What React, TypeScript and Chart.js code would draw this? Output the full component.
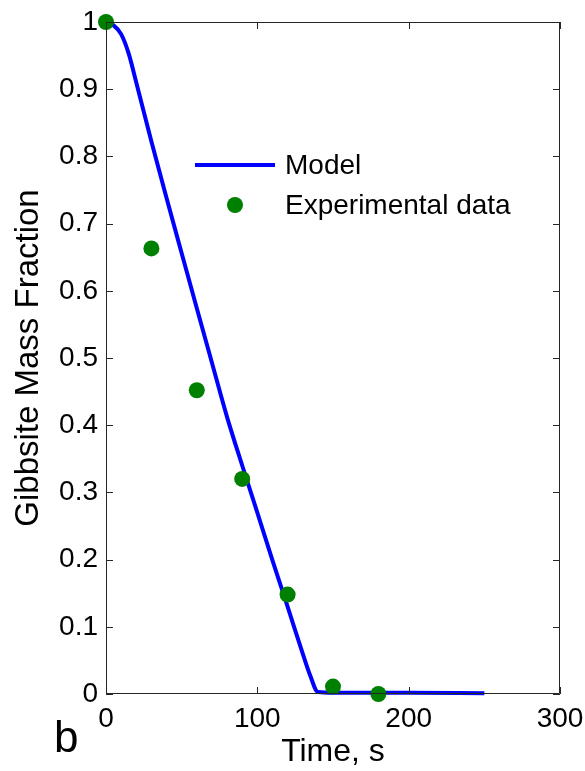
import React, { useEffect, useRef } from "react";
import { Chart, registerables } from "chart.js";

Chart.register(...registerables);

const FONT = "'Liberation Sans', Arial, Helvetica, sans-serif";

const modelTime = [0, 5, 10, 15, 20, 30, 40, 50, 60, 70, 80, 90, 100, 110, 120, 130, 135, 140, 150, 200, 250];
const modelFraction = [1.0, 0.995, 0.982, 0.953, 0.91, 0.822, 0.738, 0.656, 0.574, 0.493, 0.412, 0.34, 0.27, 0.199, 0.13, 0.06, 0.027, 0.003, 0.002, 0.002, 0.001];

const expTime = [0, 30, 60, 90, 120, 150, 180];
const expFraction = [1.0, 0.663, 0.452, 0.32, 0.148, 0.011, 0.0];

const xTickLabels = ["0", "100", "200", "300"];
const yTickLabels = ["0", "0.1", "0.2", "0.3", "0.4", "0.5", "0.6", "0.7", "0.8", "0.9", "1"];

const seriesNames = ["Model", "Experimental data"];
const panelLabel = "b";
const xTitle = "Time, s";
const yTitle = "Gibbsite Mass Fraction";

const BLUE = "#0000ff";
const GREEN = "#008000";
const AXIS = "#262626";

const framePlugin = {
  id: "frameAndExtras",
  afterDraw(chart: any) {
    const { ctx, chartArea } = chart;
    const { left, right, top, bottom } = chartArea;
    const xs = chart.scales.x;
    const ys = chart.scales.y;
    ctx.save();
    ctx.strokeStyle = AXIS;
    ctx.lineWidth = 1;
    ctx.beginPath();
    ctx.rect(left + 0.5, top + 0.5, right - left - 1, bottom - top - 1);
    ctx.stroke();
    const tl = 7;
    ctx.beginPath();
    xs.ticks.forEach((t: any) => {
      const px = Math.round(xs.getPixelForValue(t.value)) + 0.5;
      ctx.moveTo(px, bottom);
      ctx.lineTo(px, bottom - tl);
      ctx.moveTo(px, top);
      ctx.lineTo(px, top + tl);
    });
    ys.ticks.forEach((t: any) => {
      const py = Math.round(ys.getPixelForValue(t.value)) + 0.5;
      ctx.moveTo(left, py);
      ctx.lineTo(left + tl, py);
      ctx.moveTo(right, py);
      ctx.lineTo(right - tl, py);
    });
    ctx.stroke();

    // legend
    ctx.font = `28px ${FONT}`;
    ctx.fillStyle = "#000";
    ctx.textBaseline = "middle";
    ctx.textAlign = "left";
    ctx.strokeStyle = BLUE;
    ctx.lineWidth = 4;
    ctx.beginPath();
    ctx.moveTo(195, 165);
    ctx.lineTo(275, 165);
    ctx.stroke();
    ctx.fillText(seriesNames[0], 285, 166);
    ctx.fillStyle = GREEN;
    ctx.beginPath();
    ctx.arc(235, 205, 8, 0, Math.PI * 2);
    ctx.fill();
    ctx.fillStyle = "#000";
    ctx.fillText(seriesNames[1], 285, 206);

    // panel label
    ctx.font = `44px ${FONT}`;
    ctx.textBaseline = "alphabetic";
    ctx.fillText(panelLabel, 54, 752);
    ctx.restore();
  },
};

export default function App() {
  const canvasRef = useRef<HTMLCanvasElement | null>(null);

  useEffect(() => {
    if (!canvasRef.current) return;
    const chart = new Chart(canvasRef.current, {
      type: "scatter",
      data: {
        datasets: [
          {
            type: "line",
            label: seriesNames[0],
            data: modelTime.map((t, i) => ({ x: t, y: modelFraction[i] })),
            borderColor: BLUE,
            backgroundColor: BLUE,
            borderWidth: 4,
            pointRadius: 0,
            cubicInterpolationMode: "monotone",
            fill: false,
            clip: false as any,
            order: 1,
          } as any,
          {
            type: "scatter",
            label: seriesNames[1],
            data: expTime.map((t, i) => ({ x: t, y: expFraction[i] })),
            backgroundColor: GREEN,
            borderColor: GREEN,
            borderWidth: 0,
            pointRadius: 8,
            clip: false as any,
            order: 0,
          } as any,
        ],
      },
      options: {
        animation: false,
        responsive: false,
        maintainAspectRatio: false,
        layout: { padding: { left: 0, top: 22, right: 25, bottom: 0 } },
        plugins: { legend: { display: false }, tooltip: { enabled: false } },
        scales: {
          x: {
            type: "linear",
            min: 0,
            max: 300,
            afterFit: (s: any) => {
              s.height = 77;
              s.paddingLeft = 0;
              s.paddingRight = 0;
            },
            ticks: {
              stepSize: 100,
              padding: 8,
              color: "#000",
              font: { family: FONT, size: 28 },
              maxRotation: 0,
              callback: (_v: any, i: number) => xTickLabels[i],
            },
            grid: { display: false, drawTicks: false },
            border: { display: false },
            title: {
              display: true,
              text: xTitle,
              color: "#000",
              font: { family: FONT, size: 32 },
              padding: { top: 0, bottom: 0 },
            },
          },
          y: {
            type: "linear",
            min: 0,
            max: 1,
            afterFit: (s: any) => {
              s.width = 106;
              s.paddingTop = 0;
              s.paddingBottom = 0;
            },
            ticks: {
              stepSize: 0.1,
              padding: 8,
              color: "#000",
              font: { family: FONT, size: 28 },
              callback: (_v: any, i: number) => yTickLabels[i],
            },
            grid: { display: false, drawTicks: false },
            border: { display: false },
            title: {
              display: true,
              text: yTitle,
              color: "#000",
              font: { family: FONT, size: 33 },
              padding: { top: 9, bottom: 0 },
            },
          },
        },
      },
      plugins: [framePlugin],
    });
    return () => chart.destroy();
  }, []);

  return (
    <div style={{ position: "fixed", left: 0, top: 0, width: 585, height: 771, background: "#fff" }}>
      <canvas ref={canvasRef} width={585} height={771} style={{ display: "block", width: 585, height: 771 }} />
    </div>
  );
}
